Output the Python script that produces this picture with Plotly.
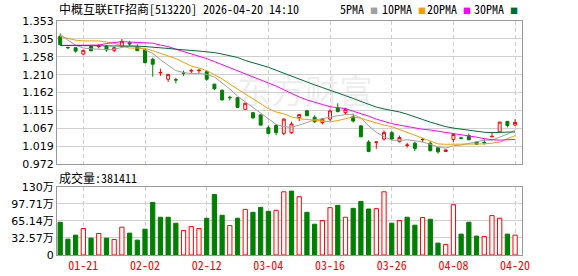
import plotly.graph_objects as go

dates = ["01-16", "01-19", "01-20", "01-21", "01-22", "01-23", "01-26", "01-27", "01-28", "01-29",
         "01-30", "02-02", "02-03", "02-04", "02-05", "02-06", "02-09", "02-10", "02-11", "02-12",
         "02-13", "02-24", "02-25", "02-26", "02-27", "03-02", "03-03", "03-04", "03-05", "03-06",
         "03-09", "03-10", "03-11", "03-12", "03-13", "03-16", "03-17", "03-18", "03-19", "03-20",
         "03-23", "03-24", "03-25", "03-26", "03-27", "03-30", "03-31", "04-01", "04-02", "04-03",
         "04-07", "04-08", "04-09", "04-10", "04-13", "04-14", "04-15", "04-16", "04-17", "04-20"]

opens = [1.312, 1.283, 1.282, 1.265, 1.285, 1.285, 1.286, 1.275, 1.286, 1.295,
         1.284, 1.276, 1.251, 1.215, 1.198, 1.197, 1.215, 1.220, 1.221, 1.218,
         1.185, 1.169, 1.150, 1.149, 1.118, 1.109, 1.103, 1.069, 1.075, 1.054,
         1.056, 1.096, 1.114, 1.097, 1.083, 1.092, 1.122, 1.109, 1.098, 1.074,
         1.031, 1.030, 1.039, 1.056, 1.032, 1.022, 1.028, 1.037, 1.028, 1.016,
         1.006, 1.038, 1.042, 1.048, 1.031, 1.030, 1.045, 1.058, 1.086, 1.076]
highs = [1.320, 1.284, 1.283, 1.276, 1.287, 1.291, 1.289, 1.284, 1.305, 1.300,
         1.291, 1.278, 1.255, 1.226, 1.212, 1.202, 1.221, 1.226, 1.225, 1.222,
         1.186, 1.170, 1.154, 1.150, 1.136, 1.111, 1.105, 1.075, 1.079, 1.094,
         1.085, 1.105, 1.116, 1.102, 1.095, 1.118, 1.134, 1.122, 1.107, 1.075,
         1.036, 1.032, 1.062, 1.061, 1.048, 1.029, 1.031, 1.042, 1.033, 1.017,
         1.011, 1.052, 1.045, 1.053, 1.032, 1.040, 1.058, 1.085, 1.087, 1.092]
lows = [1.289, 1.278, 1.269, 1.262, 1.272, 1.280, 1.271, 1.270, 1.283, 1.286,
        1.273, 1.241, 1.205, 1.207, 1.191, 1.187, 1.207, 1.214, 1.213, 1.194,
        1.169, 1.142, 1.142, 1.122, 1.116, 1.094, 1.075, 1.052, 1.049, 1.049,
        1.053, 1.087, 1.100, 1.082, 1.078, 1.087, 1.110, 1.104, 1.083, 1.044,
        1.004, 1.013, 1.035, 1.037, 1.030, 1.016, 1.007, 1.031, 1.006, 1.000,
        1.005, 1.031, 1.038, 1.036, 1.024, 1.024, 1.045, 1.057, 1.070, 1.074]
closes = [1.290, 1.282, 1.273, 1.275, 1.274, 1.286, 1.276, 1.282, 1.299, 1.292,
          1.274, 1.242, 1.238, 1.216, 1.211, 1.196, 1.214, 1.221, 1.222, 1.198,
          1.173, 1.143, 1.149, 1.123, 1.134, 1.095, 1.076, 1.054, 1.056, 1.092,
          1.079, 1.104, 1.101, 1.085, 1.092, 1.114, 1.112, 1.118, 1.087, 1.045,
          1.006, 1.031, 1.056, 1.039, 1.043, 1.023, 1.014, 1.038, 1.008, 1.005,
          1.010, 1.051, 1.041, 1.037, 1.025, 1.029, 1.046, 1.084, 1.075, 1.083]
prev_close = 1.318

volumes = [628000, 304000, 380000, 507000, 323000, 412000, 323000, 298000, 533000, 419000,
           285000, 495000, 1008000, 723000, 723000, 609000, 469000, 545000, 507000, 704000,
           1160000, 761000, 564000, 704000, 875000, 818000, 913000, 837000, 856000, 1211000,
           1224000, 1116000, 818000, 590000, 660000, 907000, 951000, 723000, 894000, 1027000,
           881000, 888000, 1211000, 609000, 660000, 723000, 571000, 717000, 685000, 228000,
           203000, 964000, 400000, 628000, 362000, 355000, 755000, 704000, 400000, 381411]

ma5 = [1.318, 1.302, 1.289, 1.281, 1.279, 1.278, 1.277, 1.278, 1.283, 1.287,
       1.285, 1.277, 1.267, 1.250, 1.235, 1.221, 1.216, 1.213, 1.213, 1.211,
       1.204, 1.189, 1.172, 1.153, 1.138, 1.122, 1.108, 1.091, 1.078, 1.072,
       1.070, 1.076, 1.084, 1.090, 1.093, 1.098, 1.101, 1.104, 1.104, 1.095,
       1.074, 1.057, 1.045, 1.036, 1.035, 1.037, 1.035, 1.031, 1.025, 1.018,
       1.015, 1.021, 1.023, 1.028, 1.032, 1.036, 1.036, 1.044, 1.052, 1.063]
ma10 = [1.312, 1.307, 1.302, 1.300, 1.300, 1.300, 1.297, 1.294, 1.286, 1.281,
        1.281, 1.280, 1.274, 1.268, 1.260, 1.253, 1.242, 1.233, 1.228, 1.221,
        1.210, 1.199, 1.185, 1.172, 1.160, 1.148, 1.135, 1.120, 1.111, 1.106,
        1.098, 1.093, 1.091, 1.089, 1.087, 1.085, 1.088, 1.092, 1.098, 1.094,
        1.088, 1.081, 1.076, 1.072, 1.064, 1.057, 1.049, 1.041, 1.032, 1.026,
        1.025, 1.025, 1.025, 1.025, 1.025, 1.026, 1.028, 1.031, 1.040, 1.048]
ma20 = [1.288, 1.288, 1.288, 1.288, 1.288, 1.289, 1.293, 1.296, 1.298, 1.297,
        1.296, 1.296, 1.294, 1.289, 1.285, 1.278, 1.272, 1.266, 1.261, 1.253,
        1.245, 1.237, 1.229, 1.221, 1.213, 1.205, 1.197, 1.189, 1.180, 1.170,
        1.160, 1.151, 1.143, 1.136, 1.131, 1.125, 1.123, 1.120, 1.113, 1.107,
        1.100, 1.092, 1.085, 1.080, 1.076, 1.072, 1.069, 1.065, 1.063, 1.060,
        1.057, 1.055, 1.052, 1.049, 1.044, 1.040, 1.037, 1.036, 1.037, 1.038]
ma30 = [1.288, 1.288, 1.288, 1.288, 1.288, 1.287, 1.287, 1.287, 1.287, 1.286,
        1.286, 1.285, 1.284, 1.282, 1.280, 1.278, 1.277, 1.275, 1.273, 1.271,
        1.269, 1.265, 1.261, 1.256, 1.248, 1.242, 1.237, 1.230, 1.222, 1.214,
        1.207, 1.197, 1.191, 1.183, 1.176, 1.169, 1.163, 1.155, 1.147, 1.139,
        1.131, 1.124, 1.119, 1.116, 1.111, 1.105, 1.099, 1.091, 1.084, 1.077,
        1.072, 1.068, 1.065, 1.062, 1.059, 1.057, 1.056, 1.057, 1.057, 1.058]

date_ticks = ["01-21", "02-02", "02-12", "03-04", "03-16", "03-26", "04-08", "04-20"]
price_ticks = [0.972, 1.019625, 1.06725, 1.114875, 1.1625, 1.210125, 1.25775, 1.305375, 1.353]
price_tick_text = ["0.972", "1.019", "1.067", "1.115", "1.162", "1.210", "1.258", "1.305", "1.353"]
vol_ticks = [0, 325700, 651400, 977100, 1302800]
vol_tick_text = ["0", "32.57万", "65.14万", "97.71万", "130万"]

title_text = "中概互联ETF招商[513220] 2026-04-20 14:10"
ma_names = ["5PMA", "10PMA", "20PMA", "30PMA"]
ma_colors = ["#a0a0a0", "#f0a000", "#ff00ff", "#006b35"]

RED = "#ff0000"
GREEN = "#008000"
GRID = "#d0d0d0"
BORDER = "#999999"
CJK = "Noto Sans Mono CJK SC, Noto Sans CJK SC, Liberation Mono"
NUM = "DejaVu Sans, Noto Sans CJK SC"

XR = [-0.415, 59.895]

fig = go.Figure()
fig.add_trace(go.Candlestick(
    x=dates, open=opens, high=highs, low=lows, close=closes,
    increasing=dict(line=dict(color=RED, width=1), fillcolor="white"),
    decreasing=dict(line=dict(color=GREEN, width=1), fillcolor=GREEN),
    whiskerwidth=0, xaxis="x", yaxis="y", hoverinfo="skip"))

for series, color in zip([ma5, ma10, ma20, ma30], ma_colors):
    fig.add_trace(go.Scatter(x=dates, y=series, mode="lines",
                             line=dict(color=color, width=1), xaxis="x", yaxis="y",
                             hoverinfo="skip"))

prevs = [prev_close] + closes[:-1]
vol_up = [c > p for c, p in zip(closes, prevs)]
fig.add_trace(go.Bar(
    x=dates, y=volumes, width=0.55,
    marker=dict(color=["white" if u else GREEN for u in vol_up],
                line=dict(color=[RED if u else GREEN for u in vol_up], width=1)),
    xaxis="x2", yaxis="y2", hoverinfo="skip"))

axis_common = dict(showline=True, linecolor=BORDER, linewidth=1, mirror=True,
                   zeroline=False, automargin=False)

fig.update_layout(
    width=578, height=276,
    margin=dict(l=57, r=56, t=21, b=21),
    paper_bgcolor="white", plot_bgcolor="white",
    showlegend=False, boxgap=0.45,
    font=dict(family=CJK, size=12, color="#000000"),
    xaxis=dict(domain=[0, 1], anchor="y", type="category", range=XR,
               rangeslider=dict(visible=False), tickvals=date_ticks, showticklabels=False,
               showgrid=True, gridcolor=GRID, griddash="4px,3px", ticks="", **axis_common),
    yaxis=dict(domain=[0.388, 1], anchor="x", range=[0.972, 1.353], tickvals=price_ticks,
               ticktext=price_tick_text, showgrid=True, gridcolor=GRID, ticks="",
               tickfont=dict(family=NUM, size=11, color="#000000"), **axis_common),
    xaxis2=dict(domain=[0, 1], anchor="y2", type="category", range=XR,
                tickvals=date_ticks, showgrid=True, gridcolor=GRID, griddash="4px,3px",
                ticks="", tickfont=dict(family=CJK, size=12, color=RED), **axis_common),
    yaxis2=dict(domain=[0, 0.2906], anchor="x2", range=[0, 1302800], tickvals=vol_ticks,
                ticktext=vol_tick_text, showgrid=True, gridcolor=GRID, ticks="",
                tickfont=dict(family=NUM, size=11, color="#000000"), **axis_common),
)

annotations = [
    dict(text=title_text, xref="paper", yref="paper", x=0, y=1.0513, xanchor="left",
         yanchor="middle", showarrow=False, font=dict(family=CJK, size=12, color="#000000")),
    dict(text="成交量:%d" % volumes[-1], xref="paper", yref="paper", x=0, y=0.332,
         xanchor="left", yanchor="middle", showarrow=False,
         font=dict(family=CJK, size=12, color="#000000")),
    dict(text="东方财富", xref="paper", yref="paper", x=0.533, y=0.709, xanchor="center",
         yanchor="middle", showarrow=False,
         font=dict(family="Noto Sans CJK SC", size=34, color="rgba(150,150,150,0.16)")),
]
legend_x = [338, 380, 425, 472]
for name, color, lx in zip(ma_names, ma_colors, legend_x):
    annotations.append(dict(
        text=name + " <span style='color:%s;font-size:8px'>■</span>" % color,
        xref="paper", yref="paper", x=(lx - 57) / 465.0, y=1.0513, xanchor="left",
        yanchor="middle", showarrow=False, font=dict(family=CJK, size=12, color="#000000")))
fig.update_layout(annotations=annotations)

fig.write_html("out.html")
